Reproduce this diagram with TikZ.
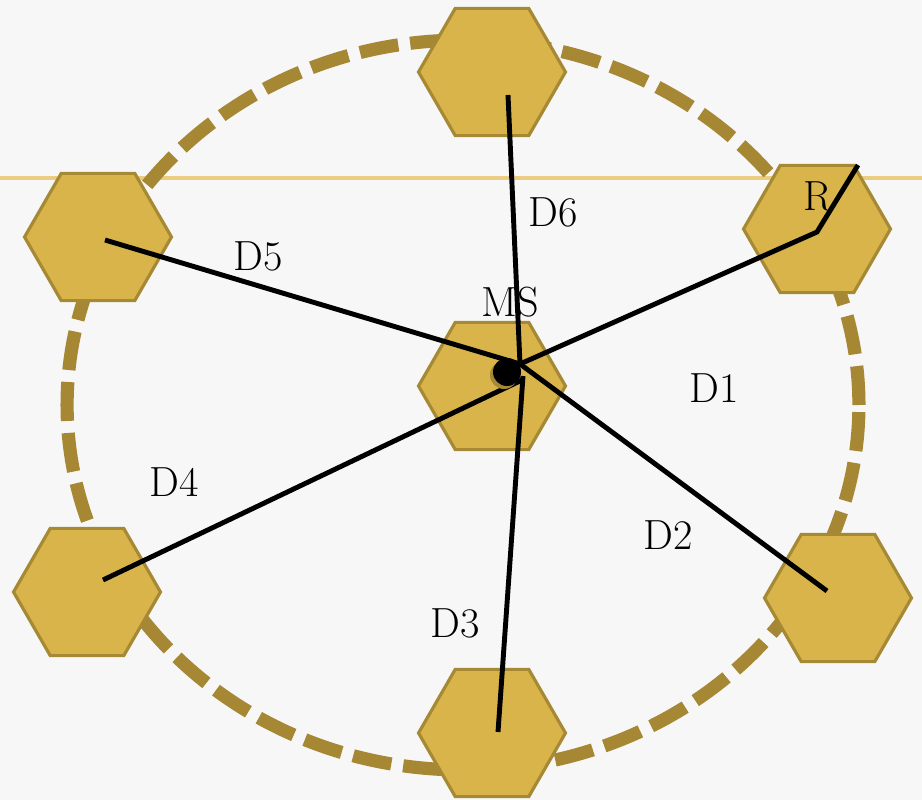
\documentclass[tikz,border=0pt]{standalone}
\usepackage{xcolor}
\usepackage{tikz}
\usetikzlibrary{shapes.geometric, calc}
\definecolor{cellgold}{RGB}{217, 180, 74}
\definecolor{celledge}{RGB}{166, 137, 52}
\definecolor{ringgold}{RGB}{166, 135, 52}
\definecolor{rulegold}{RGB}{234, 204, 130}
\definecolor{paper}{RGB}{247, 247, 247}

\begin{document}
\begin{tikzpicture}[x=0.02cm, y=-0.02cm,
  cell/.style={draw=celledge, fill=cellgold, regular polygon, regular polygon sides=6,
    minimum size=2.94cm, inner sep=0pt, line width=1.8pt},
  spoke/.style={line width=2.8pt, black},
  lbl/.style={font=\fontsize{24}{28}\selectfont, inner sep=0pt},
]
  \fill[paper] (0,0) rectangle (922,800);
  \useasboundingbox (0,0) rectangle (922,800);

  % Header rule
  \draw[rulegold, line width=2pt] (0,178) -- (922,178);

  % Ring
  \draw[ringgold, line width=7.5pt, dash pattern=on 0.78cm off 0.24cm]
    (463,405) ellipse [x radius=7.92cm, y radius=7.3cm];

  % Cells
  \node[cell] (top) at (492,72) {};
  \node[cell] (rcell) at (817,229) {};
  \node[cell] (ul) at (98,237) {};
  \node[cell] (ms) at (492,386) {};
  \node[cell] (ll) at (87,592) {};
  \node[cell] (lr) at (838,598) {};
  \node[cell] (bot) at (492,733) {};

  % Labels
  \node[lbl] (l6) at (553,212) {D6};
  \node[lbl] (l5) at (258,256) {D5};
  \node[lbl] (lms) at (510,302) {MS};
  \node[lbl] (l1) at (714,388) {D1};
  \node[lbl] (l4) at (174,482) {D4};
  \node[lbl] (l2) at (668,535) {D2};
  \node[lbl] (l3) at (455,623) {D3};
  \node[lbl] (lr) at (818,196) {R};

  % Spoke ends
  \coordinate (hub) at (520,364);
  \coordinate (hub3) at (523,376);
  \coordinate (hub4) at (522,380);
  \coordinate (e6) at (508,95);
  \coordinate (e5) at (105,240);
  \coordinate (e1) at (817,232);
  \coordinate (rtip) at (858,165);
  \coordinate (e2) at (827,591);
  \coordinate (e3) at (498,732);
  \coordinate (e4) at (103,580);

  % Distances
  \draw[spoke] (hub) -- (e6);
  \draw[spoke] (hub) -- (e5);
  \draw[spoke] (hub) -- (e1) -- (rtip);
  \draw[spoke] (hub) -- (e2);
  \draw[spoke] (hub3) -- (e3);
  \draw[spoke] (hub4) -- (e4);

  % Station
  \fill[celledge] (504,375) circle (0.28cm);
  \fill[black] (507,372) circle (0.28cm);
\end{tikzpicture}
\end{document}
